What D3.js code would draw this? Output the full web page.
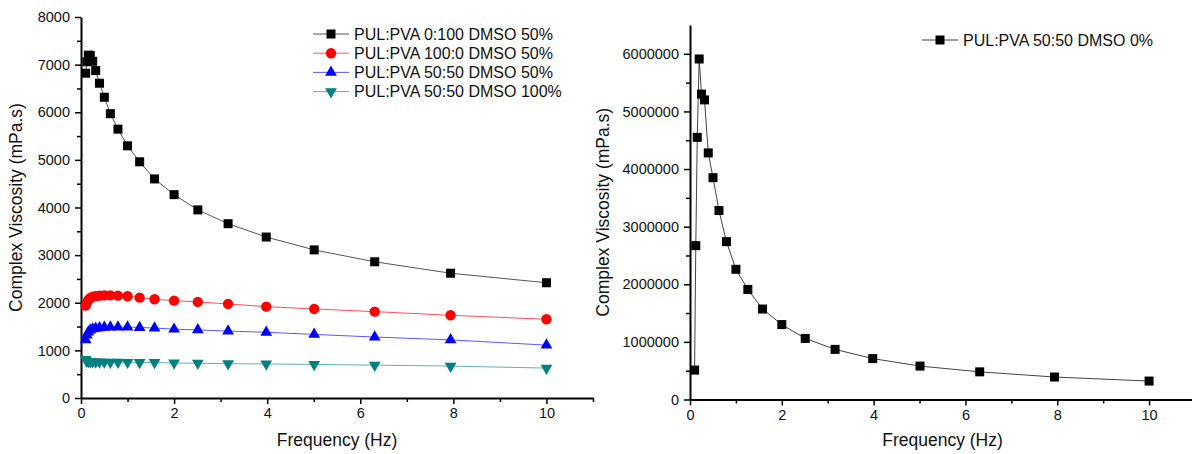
<!DOCTYPE html>
<html>
<head>
<meta charset="utf-8">
<script src="https://cdn.jsdelivr.net/npm/d3@7"></script>
<style>
  body { margin: 0; background: #fff; }
  svg { font-family: "Liberation Sans", Arial, sans-serif; }
  .axis path, .axis line { stroke: #000; }
  .axis text { fill: #111; font-size: 14.5px; }
</style>
</head>
<body>
<svg id="chart" width="1192" height="454"></svg>
<script>
// frequency sweep (Hz), same for every sample
const freq = [0.1, 0.126, 0.158, 0.2, 0.251, 0.316, 0.398, 0.501, 0.631, 0.794, 1,
              1.26, 1.58, 2, 2.51, 3.16, 3.98, 5.01, 6.31, 7.94, 10];

// complex viscosity (mPa.s), left panel
const pva0100 = [6820, 7060, 7200, 7190, 7070, 6875, 6610, 6315, 5970, 5645, 5295,
                 4960, 4600, 4270, 3950, 3660, 3380, 3110, 2860, 2620, 2420];
const pul1000 = [1940, 2000, 2060, 2100, 2125, 2140, 2150, 2155, 2155, 2150, 2137,
                 2107, 2073, 2045, 2017, 1975, 1918, 1870, 1813, 1737, 1653];
const blend50 = [1220, 1320, 1385, 1425, 1450, 1465, 1475, 1485, 1490, 1490, 1490,
                 1480, 1470, 1445, 1430, 1405, 1380, 1335, 1280, 1220, 1110];
const blend100 = [810, 775, 765, 760, 760, 758, 756, 755, 754, 752, 750,
                  748, 745, 735, 730, 720, 715, 705, 690, 670, 628];

// right panel
const dmso0 = [510000, 2670000, 4550000, 5910000, 5300000, 5200000, 4280000, 3850000,
               3280000, 2740000, 2260000, 1910000, 1570000, 1300000, 1060000, 870000,
               710000, 580000, 480000, 390000, 320000];

const leftNames = ["PUL:PVA 0:100 DMSO 50%", "PUL:PVA 100:0 DMSO 50%",
                   "PUL:PVA 50:50 DMSO 50%", "PUL:PVA 50:50 DMSO 100%"];
const rightName = "PUL:PVA 50:50 DMSO 0%";

const xTicks = [0, 2, 4, 6, 8, 10];
const leftYTicks = [0, 1000, 2000, 3000, 4000, 5000, 6000, 7000, 8000];
const rightYTicks = [0, 1000000, 2000000, 3000000, 4000000, 5000000, 6000000];

const svg = d3.select("#chart");

const series = [
  { name: leftNames[0], values: pva0100, fill: "#000", line: "#555", shape: "square" },
  { name: leftNames[1], values: pul1000, fill: "#ff0000", line: "#ff5050", shape: "circle" },
  { name: leftNames[2], values: blend50, fill: "#0000ff", line: "#5a5aff", shape: "up" },
  { name: leftNames[3], values: blend100, fill: "#008080", line: "#5fb3ad", shape: "down" }
];

function marker(g, shape, fill) {
  if (shape === "square") {
    g.append("rect").attr("x", -4.5).attr("y", -4.5).attr("width", 9).attr("height", 9)
      .attr("fill", fill);
  } else if (shape === "circle") {
    g.append("circle").attr("r", 5.2).attr("fill", fill);
  } else {
    const p = d3.symbol().type(d3.symbolTriangle).size(60)();
    g.append("path").attr("d", p).attr("fill", fill)
      .attr("transform", shape === "down" ? "rotate(180)" : null);
  }
}

function drawPanel(opt) {
  const g = svg.append("g");
  const x = d3.scaleLinear().domain([0, 11]).range(opt.xr);
  const y = d3.scaleLinear().domain([0, opt.ymax]).range(opt.yr);

  // minor ticks
  g.append("g").attr("class", "axis").attr("transform", `translate(0,${opt.yr[0]})`)
    .call(d3.axisBottom(x).tickValues(d3.range(1, 12, 2)).tickSize(4).tickFormat(""))
    .call(a => a.select(".domain").remove());
  g.append("g").attr("class", "axis").attr("transform", `translate(${opt.xr[0]},0)`)
    .call(d3.axisLeft(y).tickValues(opt.minor).tickSize(4).tickFormat(""))
    .call(a => a.select(".domain").remove());

  // major axes
  const xa = g.append("g").attr("class", "axis").attr("transform", `translate(0,${opt.yr[0]})`)
    .call(d3.axisBottom(x).tickValues(xTicks).tickSize(6).tickSizeOuter(0).tickPadding(4));
  const ya = g.append("g").attr("class", "axis").attr("transform", `translate(${opt.xr[0]},0)`)
    .call(d3.axisLeft(y).tickValues(opt.ticks).tickSize(6).tickSizeOuter(0).tickPadding(5)
      .tickFormat(d3.format("d")));
  g.selectAll(".axis .domain").attr("stroke-width", 2);
  g.selectAll(".axis line").attr("stroke-width", 1.5);

  g.append("text").attr("x", (opt.xr[0] + opt.xr[1]) / 2).attr("y", 446)
    .attr("text-anchor", "middle").attr("font-size", 17.5).attr("fill", "#111")
    .text("Frequency (Hz)");
  g.append("text")
    .attr("transform", `translate(${opt.ylabX},${(opt.yr[0] + opt.yr[1]) / 2}) rotate(-90)`)
    .attr("text-anchor", "middle").attr("font-size", 17.5).attr("fill", "#111")
    .text("Complex Viscosity (mPa.s)");

  const line = d3.line().x((d, i) => x(freq[i])).y(d => y(d));
  opt.series.forEach(s => {
    g.append("path").datum(s.values).attr("d", line)
      .attr("fill", "none").attr("stroke", s.line).attr("stroke-width", 1);
    g.selectAll(null).data(s.values).enter().append("g")
      .attr("transform", (d, i) => `translate(${x(freq[i])},${y(d)})`)
      .each(function () { marker(d3.select(this), s.shape, s.fill); });
  });

  // legend
  opt.series.forEach((s, i) => {
    const ly = opt.legY + i * 19.2;
    const lg = g.append("g");
    lg.append("line").attr("x1", opt.legX).attr("x2", opt.legX + 36)
      .attr("y1", ly).attr("y2", ly).attr("stroke", s.line).attr("stroke-width", 1);
    const m = lg.append("g").attr("transform", `translate(${opt.legX + 18},${ly})`);
    marker(m, s.shape, s.fill);
    lg.append("text").attr("x", opt.legX + 41).attr("y", ly + 5.5)
      .attr("font-size", 16).attr("fill", "#111").text(s.name);
  });
}

drawPanel({
  xr: [81, 593], yr: [398, 17], ymax: 8000,
  ticks: leftYTicks, minor: d3.range(500, 8000, 1000),
  ylabX: 22, series: series, legX: 313, legY: 34
});

drawPanel({
  xr: [690, 1195], yr: [399.5, 25], ymax: 6500000,
  ticks: rightYTicks, minor: d3.range(500000, 6500000, 1000000),
  ylabX: 609, legX: 922, legY: 40,
  series: [{ name: rightName, values: dmso0, fill: "#000", line: "#444", shape: "square" }]
});
</script>
</body>
</html>
